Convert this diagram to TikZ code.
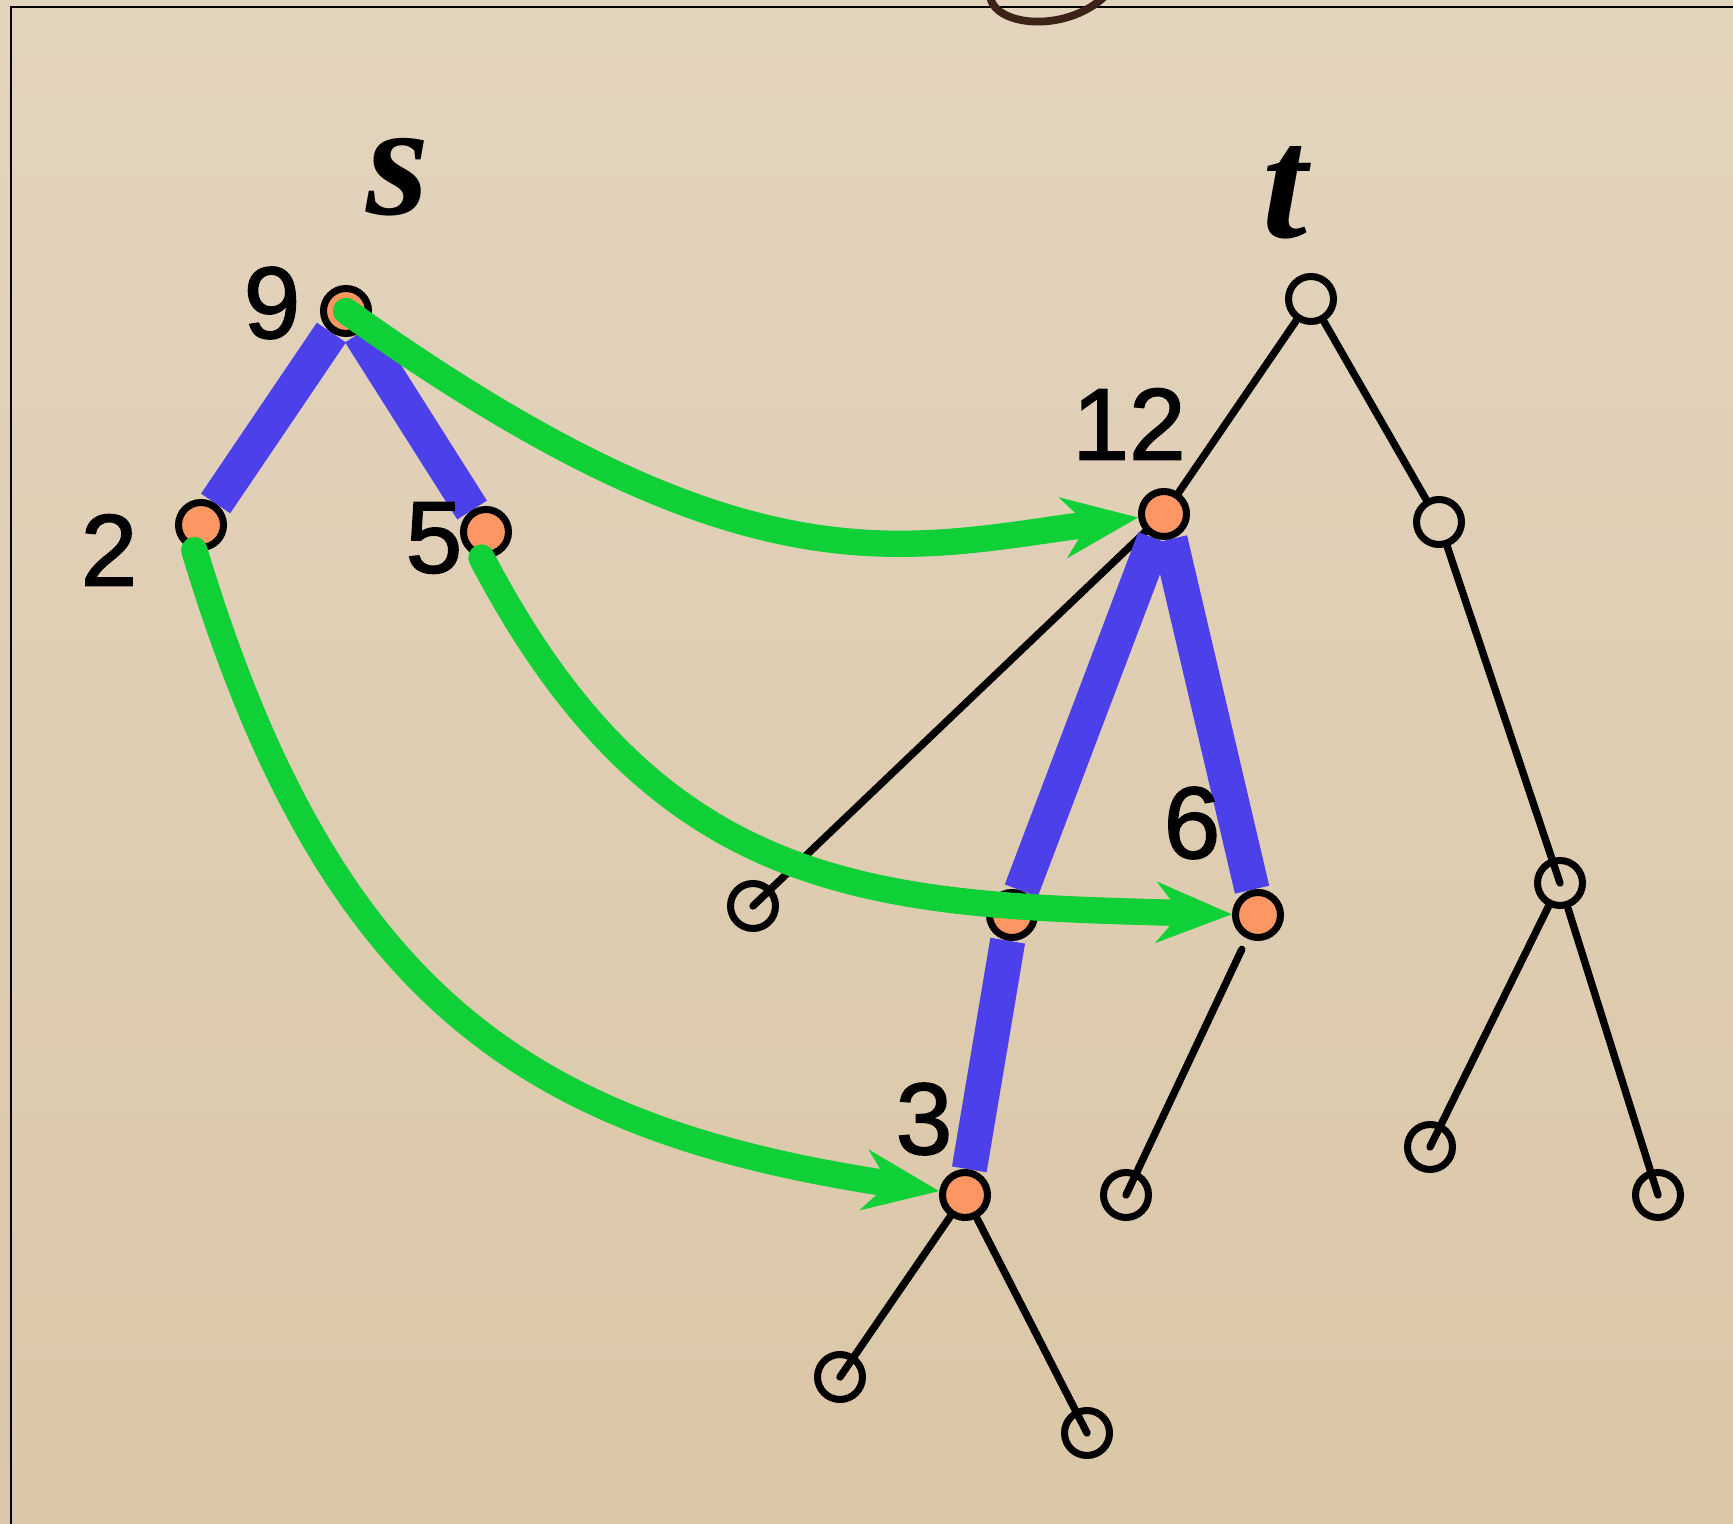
\documentclass[tikz,border=0pt]{standalone}
\usepackage{fontspec}
\setmainfont{Liberation Sans}
\newfontfamily\italicserif{Liberation Serif}
\usetikzlibrary{arrows.meta,backgrounds}

\definecolor{paper}{RGB}{227,212,190}
\definecolor{paperlow}{RGB}{219,199,167}
\definecolor{hlblue}{RGB}{76,64,235}
\definecolor{linkgreen}{RGB}{16,208,56}
\definecolor{keyorange}{RGB}{252,150,98}
\definecolor{inkbrown}{RGB}{60,34,24}

\begin{document}
\begin{tikzpicture}[x=0.1mm,y=-0.1mm,
  key/.style={circle,draw,line width=2pt,fill=keyorange,minimum size=4.5mm,inner sep=0pt},
  hollow/.style={circle,draw,line width=2pt,minimum size=4.5mm,inner sep=0pt},
  num/.style={font=\addfontfeature{FakeBold=1.5}\fontsize{29}{29}\selectfont,inner sep=0pt},
  sym/.style={font=\italicserif\bfseries\itshape\fontsize{46}{46}\selectfont,inner sep=0pt},
  tree/.style={line width=2.1pt,line cap=round},
  hl/.style={line width=10pt,draw=hlblue},
  link/.style={line width=7.5pt,draw=linkgreen,line cap=round,
    -{Stealth[length=7.5mm,width=6mm,inset=2.4mm]}}]
\useasboundingbox (0,0) rectangle (1733,1524);

%tree s
\node[key] (n9) at (346,311) {};
\node[key] (n2) at (201,525) {};
\node[key] (n5) at (486,532) {};
%tree t
\node[hollow] (t0) at (1311,299) {};
\node[key] (n12) at (1164,514) {};
\node[hollow] (tr) at (1439,522) {};
\node[hollow] (l12) at (753,906) {};
\node[key] (nu) at (1012,915) {};
\node[key] (n6) at (1258,915) {};
\node[key] (n3) at (965,1195) {};
\node[hollow] (l6) at (1126,1195) {};
\node[hollow] (tm) at (1560,883) {};
\node[hollow] (lm1) at (1430,1147) {};
\node[hollow] (lm2) at (1658,1195) {};
\node[hollow] (l31) at (840,1377) {};
\node[hollow] (l32) at (1087,1433) {};

%labels
\node[sym] (ls) at (398,177) {s};
\node[sym] (lt) at (1285,193) {t};
\node[num] (l9) at (272,303) {9};
\node[num] (l2) at (109,550) {2};
\node[num] (l5) at (434,538) {5};
\node[num] (lb12) at (1129,424) {12};
\node[num] (lb6) at (1192,823) {6};
\node[num] (lb3) at (924,1119) {3};

\begin{scope}[on background layer]
  \shade[top color=paper,bottom color=paperlow] (0,0) rectangle (1733,1524);
  \draw[line width=0.5pt] (1733,7) -- (11,7) -- (11,1524);
  \draw[inkbrown,line width=2.2pt,line cap=round]
    (990,-5) .. controls (992,26) and (1064,34) .. (1104,-3);
  %black edges
  \draw[tree] (t0) -- (n12);
  \draw[tree] (t0) -- (tr);
  \draw[tree] (n12) -- (l12.center);
  \draw[tree] (tr) -- (tm.center);
  \draw[tree] (tm) -- (lm1.center);
  \draw[tree] (tm) -- (lm2.center);
  \draw[tree,shorten <=1.2mm] (n6) -- (l6.center);
  \draw[tree] (n3) -- (l31.center);
  \draw[tree] (n3) -- (l32.center);
  %blue edges
  \draw[hl] (n9) -- (n2);
  \draw[hl] (n9) -- (n5);
  \draw[hl] (n12) -- (nu);
  \draw[hl] (n12) -- (n6);
  \draw[hl] (nu) -- (n3);
\end{scope}

%green links
\draw[link] (n9.center) .. controls (746,597) and (900,550) .. (n12);
\draw[link] (n5.-100) .. controls (660,900) and (880,905) .. (n6);
\draw[link] (n2.-105) .. controls (330,1000) and (530,1130) .. (n3);
\end{tikzpicture}
\end{document}
